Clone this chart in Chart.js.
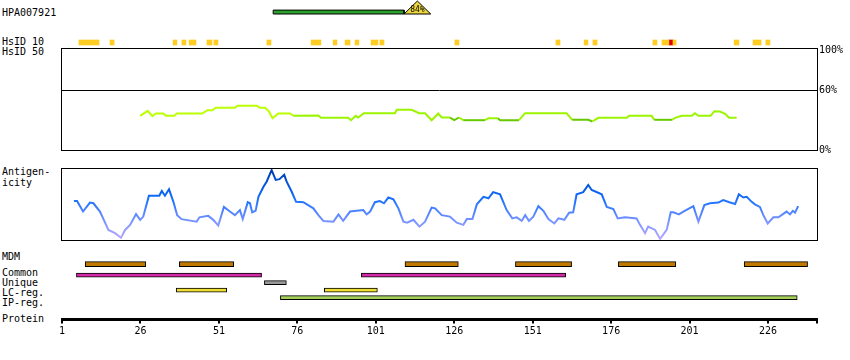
<!DOCTYPE html>
<html><head><meta charset="utf-8">
<script src="https://cdn.jsdelivr.net/npm/chart.js@4.4.0/dist/chart.umd.min.js"></script>
<style>
html,body{margin:0;padding:0;background:#fff;}
#wrap{position:relative;width:850px;height:360px;overflow:hidden;font-family:'DejaVu Sans Mono',monospace;font-size:10px;color:#000;}
.lbl{position:absolute;left:2px;line-height:12px;white-space:pre;}
canvas{position:absolute;left:42px;}
</style></head><body>
<div id="wrap">
  <div class="lbl" style="top:6.5px">HPA007921</div>
  <div class="lbl" style="top:36.3px">HsID 10</div>
  <div class="lbl" style="top:46.3px">HsID 50</div>
  <div class="lbl" style="top:166px">Antigen-</div>
  <div class="lbl" style="top:177px">icity</div>
  <div class="lbl" style="top:251.2px">MDM</div>
  <div class="lbl" style="top:266.5px">Common</div>
  <div class="lbl" style="top:276.5px">Unique</div>
  <div class="lbl" style="top:286.5px">LC-reg.</div>
  <div class="lbl" style="top:296.5px">IP-reg.</div>
  <div class="lbl" style="top:313.2px">Protein</div>
  <canvas id="cTop" width="808" height="20" style="top:0px"></canvas>
  <canvas id="cH10" width="808" height="11" style="top:37px"></canvas>
  <canvas id="cH50" width="808" height="120" style="top:40px"></canvas>
  <canvas id="cAg" width="808" height="88" style="top:160px"></canvas>
  <canvas id="cTr" width="808" height="102" style="top:248px"></canvas>
</div>
<script>
// ---------------- DATA ----------------
const XMIN = 1, XMAX = 241.6;
const proteinTicks = [1, 26, 51, 76, 101, 126, 151, 176, 201, 226];

const antigenRange = [68.3, 110.0];
const antigenIdentity = 84;

const hsid10Blocks = [[6.4,12.8],[16.3,17.6],[36.4,37.6],[39.2,40.5],[41.5,43.7],[47.2,48.8],[49.4,50.7],[66.3,67.6],
  [80.4,83.5],[87.4,88.6],[91.2,92.8],[94.4,95.6],[99.5,101.7],[102.3,103.6],[126.2,127.5],[158.4,159.7],[167.4,168.6],
  [170.2,171.5],[189.3,190.6],[192.2,194.4],[195.7,196.7],[215.2,216.7],[221.2,223.8],[225.3,226.6]];
const hsid10Red = [[194.4,195.7]];

const hsid50Ticks = [0, 60, 100];
const hsid50Residues = [25.9,28.3,29.8,30.9,33.3,34.1,36.8,37.6,45.7,47.3,48.9,50.0,56.1,56.9,63.1,64.1,65.7,66.9,68.1,69.9,
  73.7,74.7,82.7,83.5,92.2,93.1,94.6,95.4,97.2,107.1,107.7,112.4,114.8,116.7,118.8,120.9,122.0,124.6,126.0,127.5,128.9,
  135.8,136.9,139.9,140.6,146.6,148.6,161.8,163.6,168.7,170.0,171.9,181.0,181.7,188.9,189.8,195.5,196.4,198.5,201.7,
  202.7,203.8,207.7,208.9,210.7,212.3,213.6,216.0];
const hsid50Values = [34.2,39.2,33.8,36.5,36.5,34.2,34.2,36.5,36.5,39.8,39.8,42.2,42.2,44.2,44.2,42.2,42.2,38.8,31.8,36.5,
  36.5,34.3,34.5,32.2,32.2,29.8,34.2,32.5,36.8,36.8,40.2,40.2,36.8,36.8,29.8,36.5,32.5,32.5,29.8,32.5,29.8,
  29.8,31.8,31.8,29.8,29.8,36.8,36.8,30.2,30.2,28.5,32.2,32.2,34.2,34.2,30.2,30.2,32.2,34.2,34.2,
  36.8,34.2,34.2,38.8,38.5,36.2,32.2,32.2];
const hsid50DarkRanges = [[125.2,127.0],[128.5,136.2],[140.2,147.0],[163.0,170.5],[189.5,195.8]];

const antigenicityResidues = [4.8,5.8,7.7,9.9,11.0,13.1,15.8,17.9,19.8,21.1,22.7,24.6,25.9,26.9,28.7,32.0,32.8,33.8,35.1,36.5,
  37.7,39.1,43.9,44.8,47.6,49.2,50.8,52.6,54.5,56.1,57.7,58.6,60.2,60.9,61.6,62.7,63.6,65.2,66.2,67.8,69.1,70.3,71.8,72.6,
  74.2,75.6,77.9,81.1,82.7,84.3,87.5,89.1,90.6,92.8,97.0,98.1,99.2,100.7,102.3,103.6,105.0,106.6,108.2,109.8,111.0,113.0,
  114.9,116.7,118.8,119.9,122.0,124.6,126.8,128.9,130.0,131.8,133.2,135.3,136.9,138.4,140.6,142.7,144.5,145.9,147.5,148.6,
  149.8,151.2,152.8,154.4,156.0,157.9,159.2,161.1,162.6,163.9,165.0,167.1,168.7,169.8,173.0,174.6,176.7,178.1,180.4,184.1,
  185.2,186.8,187.8,190.0,191.6,193.7,195.0,195.8,197.6,199.0,202.2,203.8,205.7,207.5,210.2,211.7,213.9,215.5,216.7,218.1,
  219.2,220.8,221.8,223.4,224.5,225.9,227.7,229.3,231.9,233.0,233.9,234.6,235.6];
const antigenicityValues = [0.08,0.08,-0.21,0.04,0.02,-0.21,-0.72,-0.81,-0.94,-0.72,-0.58,-0.28,-0.44,-0.35,0.23,0.23,0.36,0.23,0.41,0.06,
  -0.31,-0.42,-0.49,-0.37,-0.33,-0.44,-0.60,-0.08,-0.21,-0.31,-0.17,-0.42,0.05,0.02,-0.23,-0.19,0.20,0.48,0.62,0.94,0.67,0.69,0.81,0.62,
  0.34,0.06,0.05,-0.12,-0.31,-0.47,-0.49,-0.29,-0.47,-0.21,-0.17,-0.29,-0.21,0.05,0.08,0.02,0.18,0.13,-0.12,-0.49,-0.52,-0.44,
  -0.63,-0.49,-0.10,-0.12,-0.31,-0.35,-0.52,-0.58,-0.42,-0.42,-0.01,0.20,0.16,0.33,0.27,-0.17,-0.40,-0.37,-0.47,-0.31,
  -0.47,-0.35,-0.06,-0.19,-0.42,-0.54,-0.40,-0.44,-0.24,-0.23,0.27,0.33,0.53,0.39,0.27,-0.08,-0.14,-0.40,-0.37,-0.40,
  -0.58,-0.81,-0.63,-0.72,-0.97,-0.72,-0.23,-0.23,-0.29,-0.21,-0.06,-0.49,-0.03,0.02,0.04,0.11,0.04,0.00,0.27,0.18,
  0.20,0.06,-0.01,-0.08,-0.31,-0.54,-0.37,-0.37,-0.21,-0.29,-0.19,-0.24,-0.06];

const trackNames = ['MDM', 'Common', 'Unique', 'LC-reg.', 'IP-reg.'];
const mdmRanges = [[8.4,27.7],[38.4,55.7],[110.3,127.3],[145.5,163.4],[178.3,196.6],[218.4,238.6]];
const commonRanges = [[5.6,64.6],[96.4,161.5]];
const uniqueRanges = [[65.5,72.5]];
const lcRanges = [[37.4,53.5],[84.6,101.5]];
const ipRanges = [[70.6,235.3]];

// ---------------- STYLE / LAYOUT ----------------
const FONT = "'DejaVu Sans Mono', monospace";
Chart.defaults.font.family = FONT;
Chart.defaults.font.size = 10;
Chart.defaults.color = '#000';
Chart.defaults.animation = false;
Chart.defaults.events = [];
Chart.defaults.responsive = false;
Chart.defaults.maintainAspectRatio = false;
Chart.defaults.plugins.legend.display = false;
Chart.defaults.plugins.tooltip.enabled = false;

const framePlugin = {
  id: 'frame',
  afterDraw(chart, args, opts) {
    if (!opts || !opts.show) return;
    const {ctx, chartArea: a} = chart;
    ctx.save();
    ctx.strokeStyle = '#000';
    ctx.lineWidth = 1;
    ctx.strokeRect(Math.round(a.left) - 0.5, Math.round(a.top) + 0.5,
      Math.round(a.right - a.left) + 1, Math.round(a.bottom - a.top));
    ctx.restore();
  }
};
const xHidden = () => ({type: 'linear', min: XMIN, max: XMAX, display: false});
const pad = (top, bottom, right) => ({padding: {left: 20, right: right === undefined ? 33 : right, top, bottom}});

// ---- Antigen (HPA) bar + identity triangle ----
const triL = antigenRange[1], triApex = antigenRange[1] + 4.25, triR = antigenRange[1] + 8.5;
const identityLabel = {
  id: 'identityLabel',
  afterDatasetsDraw(chart) {
    const {ctx, scales: {x, y}} = chart;
    ctx.save();
    ctx.font = "8px " + FONT;
    ctx.fillStyle = '#000';
    ctx.textAlign = 'center';
    ctx.textBaseline = 'middle';
    ctx.fillText(antigenIdentity + '%', x.getPixelForValue(triApex), y.getPixelForValue(0.33));
    ctx.restore();
  }
};
const shapeBase = {pointRadius: 0, tension: 0, clip: false, borderJoinStyle: 'miter'};
new Chart(document.getElementById('cTop'), {
  type: 'line',
  data: {datasets: [
    {...shapeBase, data: [{x: triL, y: 0}, {x: triApex, y: 1}, {x: triR, y: 0}, {x: triL, y: 0}],
      borderColor: '#000', borderWidth: 1, fill: false},
    {...shapeBase, data: [{x: triL, y: 0}, {x: triApex, y: 1}, {x: triR, y: 0}],
      borderColor: 'transparent', borderWidth: 1, backgroundColor: '#EED840', fill: 'origin'},
    {...shapeBase, data: [{x: antigenRange[0], y: 0}, {x: antigenRange[0], y: 0.3}, {x: antigenRange[1], y: 0.3},
      {x: antigenRange[1], y: 0}, {x: antigenRange[0], y: 0}], borderColor: '#000', borderWidth: 1, fill: false},
    {...shapeBase, data: [{x: antigenRange[0], y: 0.3}, {x: antigenRange[1], y: 0.3}],
      borderColor: 'transparent', borderWidth: 1, backgroundColor: '#2CA02C', fill: 'origin'}
  ]},
  options: {layout: pad(1, 6), scales: {x: xHidden(), y: {type: 'linear', min: 0, max: 1, display: false}}},
  plugins: [identityLabel]
});

// ---- HsID 10 ----
new Chart(document.getElementById('cH10'), {
  type: 'bar',
  data: {datasets: [
    {data: hsid10Blocks.map(b => ({x: b, y: 0.5})), backgroundColor: '#FFCC22', barThickness: 5, borderWidth: 0, grouped: false},
    {data: hsid10Red.map(b => ({x: b, y: 0.5})), backgroundColor: '#DD0000', barThickness: 5, borderWidth: 0, grouped: false}
  ]},
  options: {indexAxis: 'y', layout: pad(0, 0), scales: {x: xHidden(), y: {type: 'linear', min: 0, max: 1, display: false}}}
});

// ---- HsID 50 ----
const inDark = r => hsid50DarkRanges.some(([a, b]) => r >= a && r <= b);
new Chart(document.getElementById('cH50'), {
  type: 'line',
  data: {datasets: [{
    data: hsid50Residues.map((r, i) => ({x: r, y: hsid50Values[i]})),
    borderWidth: 2, pointRadius: 0, tension: 0, borderColor: '#A8F800',
    segment: {borderColor: c => {
      const mid = (c.p0.parsed.x + c.p1.parsed.x) / 2;
      if (inDark(mid)) return '#66C800';
      return mid < 78 ? '#BBFF00' : '#9CF500';
    }}
  }]},
  options: {
    layout: {padding: {left: 20, right: 0, top: 8, bottom: 10}},
    plugins: {frame: {show: true}},
    scales: {
      x: xHidden(),
      y: {type: 'linear', position: 'right', min: 0, max: 102,
        afterBuildTicks: s => { s.ticks = hsid50Ticks.map(v => ({value: v})); },
        afterFit: s => { s.width = 33; },
        ticks: {callback: v => v + '%', padding: 2, autoSkip: false, color: '#000', font: {family: FONT, size: 10}},
        grid: {drawTicks: false, lineWidth: 1, color: c => (c.tick && c.tick.value === 60) ? '#000' : 'rgba(0,0,0,0)'},
        border: {display: false}
      }
    }
  },
  plugins: [framePlugin]
});

// ---- Antigenicity ----
let agGrad = null;
function agColor(ctx) {
  const chart = ctx.chart, a = chart.chartArea;
  if (!a) return '#2676FF';
  if (!agGrad) {
    const g = chart.ctx.createLinearGradient(0, a.top, 0, a.bottom);
    g.addColorStop(0, '#0036A0');
    g.addColorStop(0.15, '#004CCC');
    g.addColorStop(0.35, '#0A64F2');
    g.addColorStop(0.48, '#2676FF');
    g.addColorStop(0.62, '#5585FF');
    g.addColorStop(0.76, '#7E96FF');
    g.addColorStop(1, '#BCA8FF');
    agGrad = g;
  }
  return agGrad;
}
new Chart(document.getElementById('cAg'), {
  type: 'line',
  data: {datasets: [{
    data: antigenicityResidues.map((r, i) => ({x: r, y: antigenicityValues[i]})),
    borderWidth: 2, pointRadius: 0, tension: 0, borderColor: agColor
  }]},
  options: {
    layout: pad(8, 8),
    plugins: {frame: {show: true}},
    scales: {x: xHidden(), y: {type: 'linear', min: -1, max: 1, display: false}}
  },
  plugins: [framePlugin]
});

// ---- Feature tracks + protein axis ----
const trackRowPos = [5.45, 4, 3, 2, 1];
const trackStyle = [
  {bg: '#BF7800', t: 5}, {bg: '#D42AAA', t: 4}, {bg: '#999999', t: 4}, {bg: '#EEDD33', t: 4}, {bg: '#A3CF5A', t: 4}
];
const trackData = [mdmRanges, commonRanges, uniqueRanges, lcRanges, ipRanges];
new Chart(document.getElementById('cTr'), {
  type: 'bar',
  data: {datasets: trackData.map((ranges, k) => ({
    label: trackNames[k],
    data: ranges.map(r => ({x: r, y: trackRowPos[k]})),
    backgroundColor: trackStyle[k].bg, borderColor: '#000', borderWidth: 1, borderSkipped: false,
    barThickness: trackStyle[k].t, grouped: false
  }))},
  options: {
    indexAxis: 'y',
    layout: {padding: {left: 20, right: 33, top: 1, bottom: 10}},
    scales: {
      x: {type: 'linear', position: 'bottom', min: XMIN, max: XMAX,
        afterBuildTicks: s => { s.ticks = proteinTicks.concat([XMAX]).map(v => ({value: v})); },
        afterFit: s => { s.height = 20.5; },
        ticks: {autoSkip: false, maxRotation: 0, minRotation: 0, padding: 2, color: '#000',
          font: {family: FONT, size: 10},
          callback: v => proteinTicks.includes(v) ? String(v) : ''},
        grid: {display: true, drawOnChartArea: false, drawTicks: true, tickLength: 4, tickWidth: 2,
          tickColor: '#000', lineWidth: 2, color: '#000'},
        border: {display: true, color: '#000', width: 3}
      },
      y: {type: 'linear', min: -0.75, max: 6.3, display: false}
    }
  }
});
</script>
</body></html>
